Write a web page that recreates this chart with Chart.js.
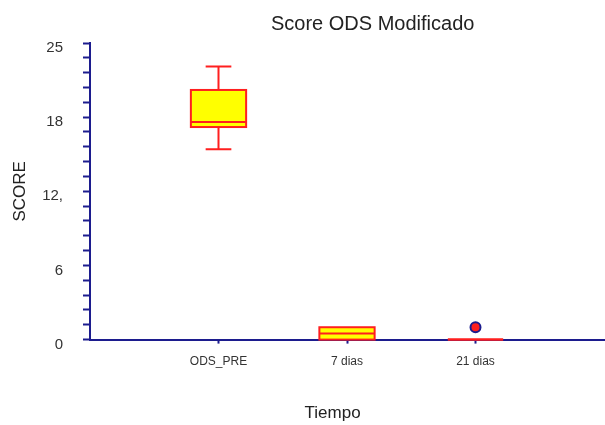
<!DOCTYPE html>
<html>
<head>
<meta charset="utf-8">
<script src="https://cdn.jsdelivr.net/npm/chart.js@4.4.1/dist/chart.umd.min.js"></script>
<style>
  html, body { margin: 0; padding: 0; background: #fff; }
  #wrap { width: 605px; height: 425px; position: relative; }
</style>
</head>
<body>
<div id="wrap"><canvas id="boxChart"></canvas></div>
<script>
  // data
  var categories = ['ODS_PRE', '7 dias', '21 dias'];
  var whiskerLow = [15.4, 0, 0];
  var q1 = [17.2, 0, 0];
  var median = [17.6, 0.5, 0];
  var q3 = [20.2, 1, 0];
  var whiskerHigh = [22.1, 1, 0];
  var outlierCat = [3];
  var outlierVal = [1];
  var yTickLabels = ['0', '6', '12,', '18', '25'];

  var navy = '#1c1c8e';
  var red = '#ff1f1f';
  var yellow = '#ffff00';
  var font = "'Liberation Sans', Arial, sans-serif";

  var boxPlot = {
    id: 'boxPlot',
    beforeDatasetsDraw: function (chart) {
      var ctx = chart.ctx;
      var xs = chart.scales.x, ys = chart.scales.y;
      ctx.save();
      ctx.lineWidth = 2;
      ctx.strokeStyle = red;
      for (var i = 0; i < categories.length; i++) {
        var cx = xs.getPixelForValue(i + 1);
        var half = (xs.getPixelForValue(i + 1 + 0.215) - cx);
        var cap = (xs.getPixelForValue(i + 1 + 0.1) - cx);
        var yq1 = ys.getPixelForValue(q1[i]);
        var yq3 = ys.getPixelForValue(q3[i]);
        var ymed = ys.getPixelForValue(median[i]);
        var ylo = ys.getPixelForValue(whiskerLow[i]);
        var yhi = ys.getPixelForValue(whiskerHigh[i]);
        ctx.beginPath();
        if (yhi < yq3) {
          ctx.moveTo(cx, yq3); ctx.lineTo(cx, yhi);
          ctx.moveTo(cx - cap, yhi); ctx.lineTo(cx + cap, yhi);
        }
        if (ylo > yq1) {
          ctx.moveTo(cx, yq1); ctx.lineTo(cx, ylo);
          ctx.moveTo(cx - cap, ylo); ctx.lineTo(cx + cap, ylo);
        }
        ctx.stroke();
        ctx.fillStyle = yellow;
        ctx.fillRect(cx - half, yq3, half * 2, yq1 - yq3);
        ctx.strokeRect(cx - half, yq3, half * 2, yq1 - yq3);
        ctx.beginPath();
        ctx.moveTo(cx - half, ymed); ctx.lineTo(cx + half, ymed);
        ctx.stroke();
      }
      ctx.restore();
    }
  };

  var extraText = {
    id: 'extraText',
    afterDraw: function (chart) {
      var ctx = chart.ctx;
      var a = chart.chartArea;
      ctx.save();
      ctx.fillStyle = '#222';
      ctx.textAlign = 'center';
      ctx.textBaseline = 'middle';
      ctx.font = '20px ' + font;
      ctx.fillText('Score ODS Modificado', a.left + (a.right - a.left) * 0.55, 24);
      ctx.font = '17px ' + font;
      ctx.fillText('Tiempo', a.left + (a.right - a.left) * 0.472, 413);
      ctx.restore();
    }
  };

  var ctx = document.getElementById('boxChart');
  var boxChart = new Chart(ctx, {
    type: 'scatter',
    data: {
      datasets: [{
        label: 'outliers',
        data: outlierCat.map(function (c, i) { return { x: c, y: outlierVal[i] }; }),
        pointRadius: 5,
        pointHoverRadius: 5,
        backgroundColor: red,
        borderColor: navy,
        borderWidth: 2
      }]
    },
    options: {
      responsive: true,
      maintainAspectRatio: false,
      animation: false,
      layout: { autoPadding: false, padding: { top: 43, right: 1, bottom: 45, left: 0 } },
      plugins: {
        legend: { display: false },
        tooltip: { enabled: false },
        title: { display: false }
      },
      scales: {
        x: {
          type: 'linear',
          min: 0,
          max: 4,
          afterBuildTicks: function (scale) {
            scale.ticks = categories.map(function (c, i) { return { value: i + 1 }; });
          },
          ticks: {
            callback: function (v) { return categories[v - 1] || ''; },
            color: '#333',
            font: { family: font, size: 12 },
            padding: 11,
            maxRotation: 0
          },
          grid: { drawOnChartArea: false, tickLength: 4, tickColor: navy, tickWidth: 2 },
          border: { color: navy, width: 2 }
        },
        y: {
          min: 0,
          max: 24,
          afterFit: function (scale) { scale.width = 90; },
          ticks: {
            stepSize: 1.2,
            autoSkip: false,
            callback: function (v, i) { return i % 5 === 0 ? yTickLabels[i / 5] : ''; },
            color: '#333',
            font: { family: font, size: 15 },
            padding: 20,
            labelOffset: 5
          },
          grid: { drawOnChartArea: false, tickLength: 7, tickColor: navy, tickWidth: 2 },
          border: { color: navy, width: 2 },
          title: {
            display: true,
            text: 'SCORE',
            color: '#222',
            font: { family: font, size: 17 },
            padding: { top: 10, bottom: 4 }
          }
        }
      }
    },
    plugins: [boxPlot, extraText]
  });
</script>
</body>
</html>
